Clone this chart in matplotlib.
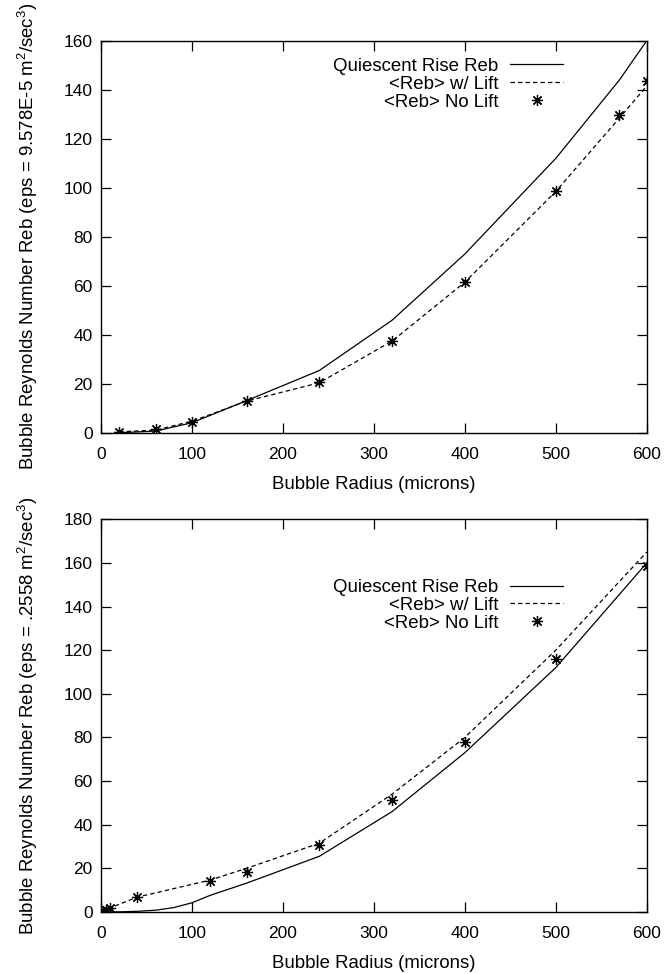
import matplotlib
matplotlib.use("Agg")
import matplotlib.pyplot as plt

plt.rcParams['font.family'] = ['Liberation Sans', 'DejaVu Sans']
plt.rcParams['mathtext.fontset'] = 'custom'
plt.rcParams['mathtext.rm'] = 'Liberation Sans'
plt.rcParams['mathtext.default'] = 'regular'

# top panel (eps = 9.578E-5)
top_r = [20, 60, 100, 160, 240, 320, 400, 500, 570, 600]
top_quiescent = [0.1, 0.8, 4.2, 13.2, 25.5, 46, 73, 112, 144, 160]
top_lift = [0.5, 1.2, 4.8, 13.0, 20.5, 37.5, 61.5, 98.5, 128.5, 141.5]
top_nolift = [0.5, 1.5, 4.6, 13.2, 20.7, 37.7, 61.8, 98.8, 129.8, 143.7]

# bottom panel (eps = .2558)
bot_q_r = [0, 20, 40, 60, 80, 100, 120, 160, 240, 320, 400, 500, 600]
bot_quiescent = [0, 0.05, 0.3, 0.8, 2.0, 4.2, 7.6, 13.2, 25.5, 46, 73, 112, 160]
bot_r = [0, 2, 5, 10, 40, 120, 160, 240, 320, 400, 500, 600]
bot_lift = [0, 0.4, 1.0, 1.9, 6.8, 14.6, 20.0, 31.5, 54, 80, 120, 165]
bot_nolift = [0.3, 0.6, 1.0, 1.8, 7.0, 14.2, 18.2, 30.8, 51.2, 77.8, 115.8, 158.6]

labels = ['Quiescent Rise Reb', '<Reb> w/ Lift', '<Reb> No Lift']
ylabels = [r'Bubble Reynolds Number Reb (eps = 9.578E-5 m$^{2}$/sec$^{3}$)',
           r'Bubble Reynolds Number Reb (eps = .2558 m$^{2}$/sec$^{3}$)']

fig = plt.figure(figsize=(6.67, 9.74), dpi=100)
ax1 = fig.add_axes([0.1514, 0.5554, 0.8182, 0.4028])
ax2 = fig.add_axes([0.1514, 0.0637, 0.8182, 0.4031])

panels = [
    (ax1, top_r, top_quiescent, top_r, top_lift, top_nolift, 160, 20, 0.957),
    (ax2, bot_q_r, bot_quiescent, bot_r, bot_lift, bot_nolift, 180, 20, 0.848),
]

star = (8, 2, 0)
for i, (ax, qr, q, r, lift, nolift, ymax, ystep, leg_y) in enumerate(panels):
    ax.plot(qr, q, color='black', lw=0.9, label=labels[0])
    ax.plot(r, lift, color='black', lw=0.9, ls=(0, (3.5, 2.5)), label=labels[1])
    ax.plot(r, nolift, ls='none', marker=star, ms=8, mew=0.9,
            color='black', label=labels[2])
    ax.set_xlim(0, 600)
    ax.set_ylim(0, ymax)
    ax.set_xticks(range(0, 601, 100))
    ax.set_yticks(range(0, ymax + 1, ystep))
    ax.tick_params(direction='in', length=7, width=0.9, top=True, right=True,
                   labelsize=12.5)
    ax.tick_params(axis='x', pad=10)
    ax.tick_params(axis='y', pad=6)
    for s in ax.spines.values():
        s.set_linewidth(1.0)
    ax.set_xlabel('Bubble Radius (microns)', fontsize=13.4, labelpad=10)
    ax.set_ylabel(ylabels[i], fontsize=13.4)
    ax.yaxis.set_label_coords(-0.112, 0.5)

    leg = ax.legend(loc='upper right', bbox_to_anchor=(0.847, leg_y),
                    frameon=False, fontsize=13.4, markerfirst=False,
                    handlelength=2.85, handletextpad=0.64, labelspacing=0.05,
                    borderaxespad=0, borderpad=0)
    for t in leg.get_texts():
        t.set_ha('right')
    leg._legend_box.align = 'right'

fig.savefig('out.png', dpi=100)
